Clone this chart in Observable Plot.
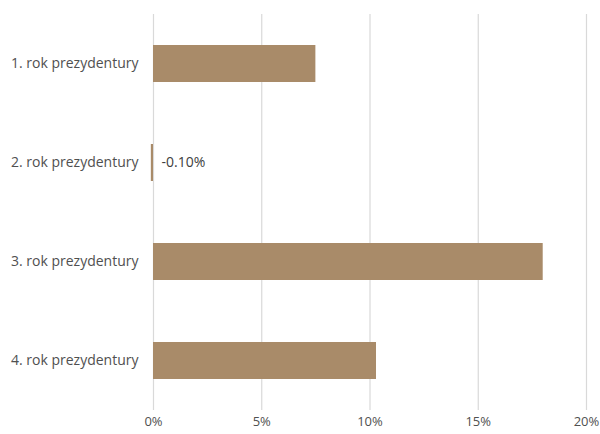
<!DOCTYPE html>
<html><head><meta charset="utf-8">
<script src="https://cdn.jsdelivr.net/npm/d3@7"></script>
<script src="https://cdn.jsdelivr.net/npm/@observablehq/plot@0.6"></script>
<style>body{margin:0;background:#fff;}</style>
</head><body><div id="chart"></div>
<script>
const categories = ["1. rok prezydentury", "2. rok prezydentury", "3. rok prezydentury", "4. rok prezydentury"];
const values = [7.5, -0.1, 18.0, 10.3];
const valueLabels = ["", "-0.10%", "", ""];
const xTicks = [0, 5, 10, 15, 20];

const data = categories.map((c, i) => ({category: c, value: values[i], label: valueLabels[i]}));

const chart = Plot.plot({
  width: 600, height: 434,
  marginLeft: 153, marginRight: 14, marginTop: 14, marginBottom: 24,
  style: {fontFamily: "'Open Sans', sans-serif", fontSize: "13px", color: "#505050", background: "#fff"},
  x: {domain: [0, 20], label: null},
  y: {domain: categories, label: null, paddingInner: 0.63, paddingOuter: 0.315},
  marks: [
    Plot.gridX(xTicks, {stroke: "#d9d9d9", strokeOpacity: 1, strokeWidth: 1.2}),
    Plot.barX(data, {x: "value", y: "category", fill: "#a98b69"}),
    Plot.text(data.filter(d => d.label), {x: 0, y: "category", text: "label", textAnchor: "start", dx: 8, fill: "#404040", fontSize: 14}),
    Plot.axisX(xTicks, {tickSize: 0, tickPadding: 6, tickFormat: d => d + "%", label: null, fontSize: 13}),
    Plot.axisY({tickSize: 0, tickPadding: 15, label: null, fontSize: 14})
  ]
});
document.getElementById("chart").appendChild(chart);
</script>
</body></html>
